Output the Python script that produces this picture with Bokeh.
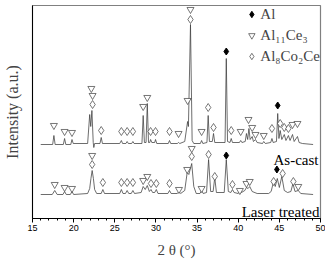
from bokeh.plotting import figure
from bokeh.models import Range1d, SingleIntervalTicker, FixedTicker, Label, Legend, LegendItem
from bokeh.embed import file_html
from bokeh.resources import INLINE

# ---- data (2θ in degrees, intensity in arbitrary units) ----
ascast_2theta = [16.0, 17.45, 17.6, 17.75, 18.75, 18.9, 19.05, 19.65, 19.8, 19.95, 21.7, 21.95, 22.08, 22.22,
                 22.38, 22.45, 22.55, 23.2, 23.35, 23.5, 25.6, 25.8, 25.95, 26.35, 26.5, 26.65, 27.05, 27.2,
                 27.35, 28.3, 28.45, 28.6, 28.8, 28.95, 29.1, 29.25, 29.35, 29.5, 29.85, 29.95, 30.1, 31.5,
                 31.65, 31.8, 32.6, 32.75, 32.9, 33.5, 33.85, 33.95, 34.2, 34.4, 34.6, 35.4, 35.55, 35.7,
                 36.2, 36.35, 36.5, 36.85, 37.0, 37.15, 38.4, 38.55, 38.7, 39.0, 39.15, 39.3, 40.15, 40.3,
                 40.45, 40.85, 41.0, 41.15, 41.3, 41.45, 41.7, 41.85, 42.1, 42.3, 42.95, 43.1, 43.3, 43.95,
                 44.1, 44.25, 44.65, 44.8, 44.95, 45.1, 45.3, 45.6, 45.8, 46.1, 46.3, 46.6, 46.8, 47.2,
                 47.4, 47.8, 49.1]
ascast_int = [74, 74, 83, 74, 74, 80, 74, 74, 79, 75, 75, 104, 92, 108,
              76, 71, 75, 75, 81, 75, 75, 78, 75, 75, 77, 75, 75, 77,
              75, 75, 103, 76, 76, 115, 76, 76, 79, 76, 76, 79, 75, 75,
              78, 75, 75, 76, 75, 77, 97, 92, 194, 78, 75, 75, 78, 75,
              76, 103, 77, 77, 85, 76, 76, 160, 77, 76, 80, 76, 76, 78,
              76, 77, 85, 79, 90, 79, 82, 77, 79, 76, 75, 77, 75, 76,
              80, 76, 77, 105, 80, 88, 79, 84, 78, 83, 78, 84, 77, 82,
              76, 75, 74]

laser_2theta = [16.0, 17.4, 17.7, 18.0, 18.7, 18.9, 19.1, 19.6, 19.8, 20.0, 21.7, 21.95, 22.1, 22.25,
                22.4, 22.55, 22.8, 23.35, 23.55, 23.75, 25.6, 25.8, 26.0, 26.3, 26.5, 26.7, 27.0, 27.2,
                27.4, 28.2, 28.45, 28.7, 28.95, 29.2, 29.4, 29.6, 29.85, 30.05, 30.25, 31.45, 31.65, 31.85,
                32.6, 32.8, 33.0, 33.5, 33.8, 34.0, 34.35, 34.6, 34.9, 35.35, 35.55, 35.75, 36.15, 36.4,
                36.65, 36.95, 37.15, 37.35, 38.3, 38.55, 38.8, 39.1, 39.3, 39.5, 40.0, 40.2, 40.4, 40.8,
                41.0, 41.2, 41.4, 41.7, 42.3, 43.7, 44.0, 44.3, 44.5, 44.75, 45.0, 45.3, 45.6, 46.0,
                46.4, 46.65, 46.9, 47.3, 47.6, 49.1]
laser_int = [24, 24, 28, 24, 24, 27, 24, 24, 27, 24, 25, 30, 40, 48,
             40, 29, 25, 25, 29, 25, 25, 29, 25, 25, 28, 25, 25, 28,
             25, 26, 32, 29, 33, 27, 29, 26, 26, 29, 25, 25, 28, 25,
             25, 27, 25, 28, 46, 44, 55, 32, 25, 25, 28, 25, 26, 59,
             27, 27, 41, 26, 26, 59, 27, 26, 29, 26, 25, 28, 26, 28,
             31, 30, 32, 27, 25, 25, 27, 37, 32, 40, 31, 42, 28, 26,
             27, 35, 27, 28, 25, 24]

# phase markers: (2θ, height of the symbol)
al_x = [38.55, 44.8, 38.55, 44.7]
al_y = [167, 113, 63, 49]
al11ce3_x = [17.6, 18.9, 19.8, 22.15, 22.3, 28.45, 28.95, 32.75, 33.85, 34.2, 35.55, 40.3, 41.25, 41.7,
             42.1, 43.1, 46.6, 47.2,
             17.7, 18.9, 19.8, 22.25, 28.45, 28.95, 32.8, 33.8, 34.35, 35.55, 40.2, 41.0, 41.4, 47.3]
al11ce3_y = [93, 87, 86, 130, 123, 112, 121, 85, 118, 209, 87, 87, 99, 91,
             84, 83, 94, 95,
             34, 31, 30, 63, 38, 42, 29, 49, 70, 30, 28, 35, 37, 32]
al8co2ce_x = [22.3, 23.35, 25.8, 26.5, 27.2, 29.35, 29.95, 31.65, 34.2, 36.35, 37.0, 39.15, 44.1, 45.1,
              45.6, 46.1,
              22.25, 23.55, 25.8, 26.5, 27.2, 29.4, 30.05, 31.65, 34.35, 36.4, 37.15, 39.3, 44.3, 45.4,
              46.7]
al8co2ce_y = [114, 88, 87, 87, 87, 87, 87, 87, 199, 111, 91, 88, 90, 95,
              91, 90,
              54, 36, 36, 36, 36, 35, 35, 35, 62, 64, 42, 34, 37, 45,
              37]

x_ticks_start, x_ticks_step = 15, 5
phase_names = ["Al", "Al\u2081\u2081Ce\u2083", "Al\u2088Co\u2082Ce"]
pattern_names = ["As-cast", "Laser treated"]

SERIF = "Liberation Serif"
INK = "#3c3c3c"

p = figure(width=325, height=262, output_backend="svg", toolbar_location=None,
           x_range=Range1d(15, 50), y_range=Range1d(0, 213),
           min_border_left=32, min_border_right=5, min_border_top=5, min_border_bottom=44)
p.background_fill_color = "white"
p.border_fill_color = "white"
p.outline_line_color = "#808080"
p.outline_line_width = 1.2
p.xgrid.visible = False
p.ygrid.visible = False

# x axis
xa = p.xaxis[0]
xa.ticker = SingleIntervalTicker(interval=x_ticks_step, num_minor_ticks=5)
xa.axis_line_color = "black"
xa.major_tick_line_color = "black"
xa.minor_tick_line_color = "black"
xa.major_tick_out = 4
xa.major_tick_in = 0
xa.minor_tick_out = 2
xa.minor_tick_in = 0
xa.major_label_text_font = "Liberation Sans"
xa.major_label_text_font_size = "9px"
xa.major_label_text_color = "black"
xa.major_label_standoff = 2
xa.axis_label = "2 \u03b8 (\u00b0)"
xa.axis_label_text_font = SERIF
xa.axis_label_text_font_style = "normal"
xa.axis_label_text_font_size = "15px"
xa.axis_label_standoff = 8

# y axis
ya = p.yaxis[0]
ya.ticker = FixedTicker(ticks=[])
ya.axis_line_color = "black"
ya.major_tick_line_color = None
ya.minor_tick_line_color = None
ya.major_tick_out = 0
ya.minor_tick_out = 0
ya.major_label_standoff = 0
ya.axis_label = "Intensity (a.u.)"
ya.axis_label_text_font = SERIF
ya.axis_label_text_font_style = "normal"
ya.axis_label_text_font_size = "16px"
ya.axis_label_standoff = 12

# diffraction patterns
p.line(ascast_2theta, ascast_int, line_color=INK, line_width=0.75)
p.line(laser_2theta, laser_int, line_color=INK, line_width=0.75)

# phase markers
r_al = p.scatter(al_x, al_y, marker="diamond", size=7, fill_color="black", line_color="black")
r_tri = p.scatter(al11ce3_x, al11ce3_y, marker="inverted_triangle", size=7, fill_color="white",
                  line_color=INK, line_width=0.7)
r_dia = p.scatter(al8co2ce_x, al8co2ce_y, marker="diamond", size=8, fill_color="white",
                  line_color=INK, line_width=0.7)

legend = Legend(items=[LegendItem(label=phase_names[0], renderers=[r_al]),
                       LegendItem(label=phase_names[1], renderers=[r_tri]),
                       LegendItem(label=phase_names[2], renderers=[r_dia])],
                location="top_right", margin=0, padding=2, spacing=3,
                glyph_width=16, glyph_height=18, label_height=18, label_standoff=1,
                label_text_font=SERIF, label_text_font_size="15px",
                background_fill_alpha=0, border_line_color=None)
p.add_layout(legend)

# pattern names (placed via pixel helper)
def px_x(px):
    return 15 + (px - 32) * 35 / 288

def px_y(py):
    return 218 - py

p.add_layout(Label(x=px_x(318), y=px_y(159), text=pattern_names[0], text_align="right",
                   text_baseline="alphabetic", text_font=SERIF, text_font_size="15px", text_color="black"))
p.add_layout(Label(x=px_x(319), y=px_y(211), text=pattern_names[1], text_align="right",
                   text_baseline="alphabetic", text_font=SERIF, text_font_size="15px", text_color="black"))

open("out.html", "w").write(file_html(p, INLINE))
